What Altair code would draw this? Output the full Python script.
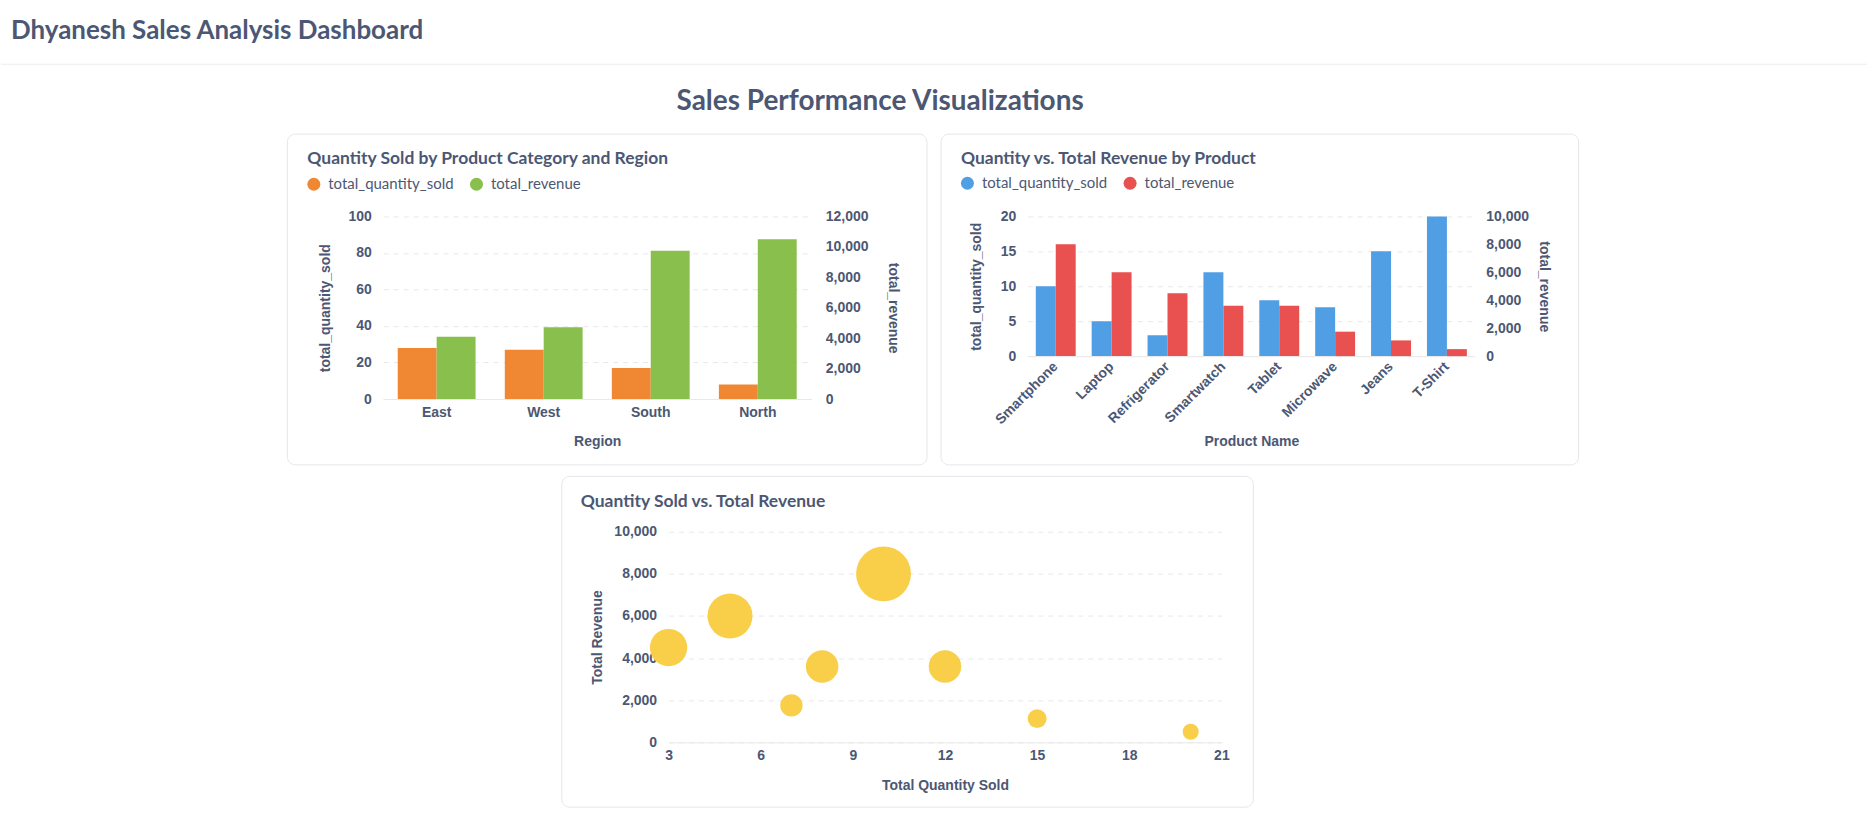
import altair as alt
import pandas as pd

# ---------------- data ----------------
regions = ["East", "West", "South", "North"]
region_qty = [28, 27, 17, 8]
region_rev = [4100, 4725, 9750, 10500]

products = ["Smartphone", "Laptop", "Refrigerator", "Smartwatch", "Tablet", "Microwave", "Jeans", "T-Shirt"]
product_qty = [10, 5, 3, 12, 8, 7, 15, 20]
product_rev = [8000, 6000, 4500, 3600, 3600, 1750, 1125, 500]

series = ["total_quantity_sold", "total_revenue"]

ticks_p1_left = [0, 20, 40, 60, 80, 100]
ticks_p1_right = [0, 2000, 4000, 6000, 8000, 10000, 12000]
ticks_p2_left = [0, 5, 10, 15, 20]
ticks_p2_right = [0, 2000, 4000, 6000, 8000, 10000]
ticks_p3_x = [3, 6, 9, 12, 15, 18, 21]
ticks_p3_y = [0, 2000, 4000, 6000, 8000, 10000]

dashboard_title = "Dhyanesh Sales Analysis Dashboard"
section_title = "Sales Performance Visualizations"
p1_title = "Quantity Sold by Product Category and Region"
p2_title = "Quantity vs. Total Revenue by Product"
p3_title = "Quantity Sold vs. Total Revenue"

# ---------------- style ----------------
TEXT = "#4C5773"
ORANGE = "#EF8733"
GREEN = "#88BF4D"
BLUE = "#509EE3"
RED = "#E8514F"
YELLOW = "#F9CF4A"
GRID = "#E8E8EA"
CARD = "#E4E6EA"
AXFONT = "Liberation Sans"

W = 1870
X0 = 383  # common x origin of the first cell of every row

AX = dict(labelFont=AXFONT, labelFontSize=14, labelFontWeight="bold", labelColor=TEXT,
          titleFont=AXFONT, titleFontSize=14, titleFontWeight="bold", titleColor=TEXT,
          ticks=False, gridColor=GRID, gridDash=[5, 5], gridWidth=1,
          labelOverlap=False)


def slot_rect(x1, y1, x2, y2):
    one = pd.DataFrame({"k": [0]})
    return alt.Chart(one).mark_rect(opacity=0).encode(
        x=alt.value(x1), x2=alt.value(x2), y=alt.value(y1), y2=alt.value(y2))


def frame(slot, card, title, tpos):
    one = pd.DataFrame({"t": [title]})
    card_rect = alt.Chart(one).mark_rect(fillOpacity=0, stroke=CARD, strokeWidth=1, cornerRadius=8).encode(
        x=alt.value(card[0]), x2=alt.value(card[2]), y=alt.value(card[1]), y2=alt.value(card[3]))
    title_text = alt.Chart(one).mark_text(align="left", baseline="middle", font="Lato", fontSize=17.5,
                                          fontWeight="bold", color=TEXT).encode(
        x=alt.value(tpos[0]), y=alt.value(tpos[1]), text="t:N")
    return [slot_rect(*slot), card_rect, title_text]


def legend(lx, ly):
    return alt.Legend(title=None, orient="none", legendX=lx, legendY=ly, direction="horizontal",
                      symbolType="circle", symbolSize=169, symbolStrokeWidth=0, symbolOpacity=1,
                      labelFont="Lato", labelFontSize=15, labelColor=TEXT, labelOffset=7,
                      columnPadding=15, padding=0)


# ---------------- header (origin at global x = X0) ----------------
HDR_H = 120
hdr = pd.DataFrame({"a": [dashboard_title], "b": [section_title]})
header = alt.layer(
    slot_rect(-X0, 0, W - X0, HDR_H),
    alt.Chart(hdr).mark_rule(color="#ECECEE", strokeWidth=1).encode(
        x=alt.value(-X0), x2=alt.value(W - X0), y=alt.value(62.5)),
    alt.Chart(hdr).mark_text(align="left", baseline="alphabetic", font="Lato", fontSize=26, fontWeight="bold",
                             color=TEXT).encode(x=alt.value(10 - X0), y=alt.value(37), text="a:N"),
    alt.Chart(hdr).mark_text(align="center", baseline="alphabetic", font="Lato", fontSize=28, fontWeight="bold",
                             color=TEXT).encode(x=alt.value(881 - X0), y=alt.value(108), text="b:N"),
).properties(width=100, height=HDR_H)

ROW2_TOP = 213 - HDR_H   # top extent of row 2 above its plot origin (plot top at y = 213)
ROW2_BOT = 250           # bottom extent of row 2 below its plot origin
ROW3_TOP = 527 - 213 - ROW2_BOT  # panel 3 plot top at y = 527

# ---------------- panel 1 ----------------
P1W, P1H = 429, 183
p1_q = pd.DataFrame({"region": regions, "series": series[0], "value": region_qty})
p1_r = pd.DataFrame({"region": regions, "series": series[1], "value": region_rev})

x1 = alt.X("region:N", sort=regions, scale=alt.Scale(paddingInner=0.273, paddingOuter=0.136),
           axis=alt.Axis(title="Region", labelAngle=0, labelPadding=7, domain=True, domainColor=GRID,
                         titleY=43, titleBaseline="middle", grid=False, **AX))
xo1 = alt.XOffset("series:N", scale=alt.Scale(domain=series, paddingInner=0, paddingOuter=0))
c1 = alt.Color("series:N", scale=alt.Scale(domain=series, range=[ORANGE, GREEN]), legend=legend(-77, -40))

b1q = alt.Chart(p1_q).mark_bar().encode(
    x=x1, xOffset=xo1, color=c1,
    y=alt.Y("value:Q", scale=alt.Scale(domain=[0, 100], nice=False),
            axis=alt.Axis(title="total_quantity_sold", values=ticks_p1_left, grid=True, domain=False,
                          labelPadding=12, titleX=-58, titleY=P1H / 2, titleBaseline="middle",
                          titleAlign="center", **AX)))
b1r = alt.Chart(p1_r).mark_bar().encode(
    x=x1, xOffset=xo1, color=c1,
    y=alt.Y("value:Q", scale=alt.Scale(domain=[0, 12000], nice=False),
            axis=alt.Axis(title="total_revenue", orient="right", values=ticks_p1_right, format=",d",
                          grid=False, domain=False, labelPadding=14, titleX=81, titleY=P1H / 2,
                          titleBaseline="middle", titleAlign="center", **AX)))

p1 = alt.layer(
    *frame((-X0, -ROW2_TOP, 552, ROW2_BOT), (-96, -82.5, 545, 249), p1_title, (-76, -58)),
    b1q, b1r,
).resolve_scale(y="independent").properties(width=P1W, height=P1H)

# ---------------- panel 2 ----------------
P2W, P2H = 448, 140
p2_q = pd.DataFrame({"product": products, "series": series[0], "value": product_qty})
p2_r = pd.DataFrame({"product": products, "series": series[1], "value": product_rev})

x2 = alt.X("product:N", sort=products, scale=alt.Scale(paddingInner=0.286, paddingOuter=0.143),
           axis=alt.Axis(title="Product Name", labelAngle=-45, labelAlign="right", labelBaseline="middle",
                         labelPadding=8, domain=True, domainColor=GRID, titleY=86, titleBaseline="middle",
                         grid=False, **AX))
xo2 = alt.XOffset("series:N", scale=alt.Scale(domain=series, paddingInner=0, paddingOuter=0))
c2 = alt.Color("series:N", scale=alt.Scale(domain=series, range=[BLUE, RED]), legend=legend(-68, -41))

b2q = alt.Chart(p2_q).mark_bar().encode(
    x=x2, xOffset=xo2, color=c2,
    y=alt.Y("value:Q", scale=alt.Scale(domain=[0, 20], nice=False),
            axis=alt.Axis(title="total_quantity_sold", values=ticks_p2_left, grid=True, domain=False,
                          labelPadding=12, titleX=-51, titleY=P2H / 2, titleBaseline="middle",
                          titleAlign="center", **AX)))
b2r = alt.Chart(p2_r).mark_bar().encode(
    x=x2, xOffset=xo2, color=c2,
    y=alt.Y("value:Q", scale=alt.Scale(domain=[0, 10000], nice=False),
            axis=alt.Axis(title="total_revenue", orient="right", values=ticks_p2_right, format=",d",
                          grid=False, domain=False, labelPadding=11, titleX=69, titleY=P2H / 2,
                          titleBaseline="middle", titleAlign="center", **AX)))

p2 = alt.layer(
    *frame((-92, -ROW2_TOP, 843, ROW2_BOT), (-87, -82.5, 552, 249), p2_title, (-67, -58)),
    b2q, b2r,
).resolve_scale(y="independent").properties(width=P2W, height=P2H)

# ---------------- panel 3 ----------------
P3W, P3H = 554, 211
p3_df = pd.DataFrame({"product": products, "qty": product_qty, "rev": product_rev})

pts = alt.Chart(p3_df).mark_circle(color=YELLOW, opacity=1).encode(
    x=alt.X("qty:Q", scale=alt.Scale(domain=[3, 21], nice=False, zero=False),
            axis=alt.Axis(title="Total Quantity Sold", values=ticks_p3_x, grid=False, labelPadding=6,
                          labelFlush=False, domain=True, domainColor=GRID, titleY=43, titleBaseline="middle",
                          **AX)),
    y=alt.Y("rev:Q", scale=alt.Scale(domain=[0, 10000], nice=False),
            axis=alt.Axis(title="Total Revenue", values=ticks_p3_y, format=",d", grid=True, domain=False,
                          labelPadding=12, titleX=-71, titleY=P3H / 2, titleBaseline="middle",
                          titleAlign="center", zindex=0, **AX)),
    size=alt.Size("rev:Q", scale=alt.Scale(type="pow", exponent=1.5, domain=[500, 8000], range=[256, 3025]),
                  legend=None),
)

P3L = 110           # left extent of panel 3 cell
SPW = 667 - P3L - X0  # spacer width so that panel 3 origin lands at x = 667
p3 = alt.layer(
    *frame((-P3L, -ROW3_TOP, W - 667, 291), (-107, -55.5, 586, 276), p3_title, (-88, -30)),
    pts,
).properties(width=P3W, height=P3H)

spacer = alt.layer(slot_rect(-X0, 0, SPW, 1)).properties(width=SPW, height=1)

row2 = (alt.hconcat(p1, p2, spacing=0)
        .resolve_scale(color="independent", xOffset="independent")
        .resolve_legend(color="independent"))
row3 = alt.hconcat(spacer, p3, spacing=0)

chart = alt.vconcat(
    header,
    row2,
    row3,
    spacing=0,
).properties(padding=0, background="white").configure_view(stroke="transparent")

chart.save("out.html", embed_options={"renderer": "svg", "actions": False})
